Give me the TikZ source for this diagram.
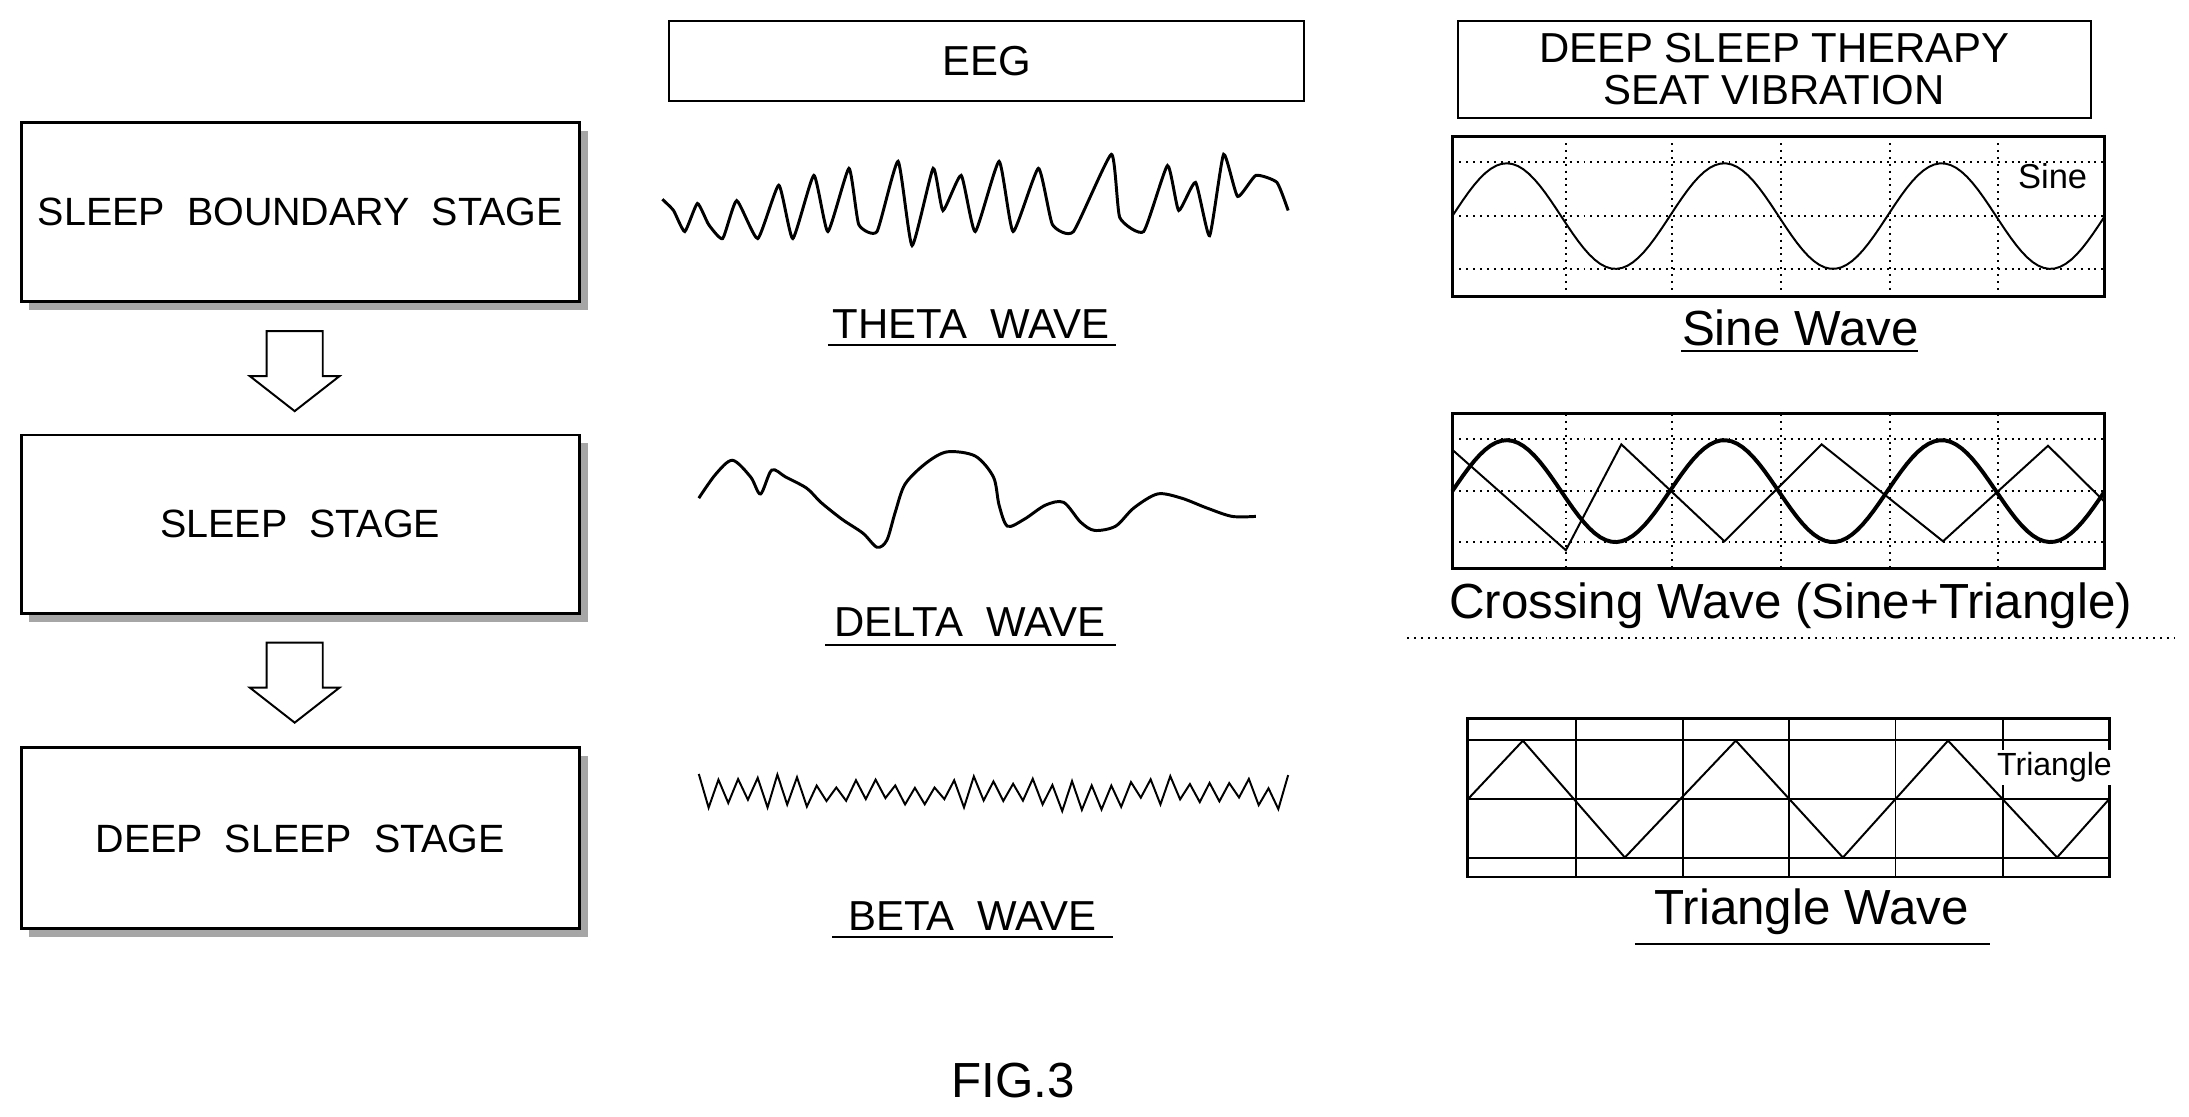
\documentclass[tikz,border=0pt]{standalone}
\usepackage{fontspec}
\setmainfont{Liberation Sans}
\usetikzlibrary{shadows}

\tikzset{
  stage/.style={draw, semithick, fill=white, minimum width=39.8mm, minimum height=12.8mm,
    font=\fontsize{8}{10}\selectfont, inner xsep=1pt,
    drop shadow={shadow xshift=0.6mm, shadow yshift=-0.6mm, fill=gray!70, opacity=1}},
  header/.style={draw, fill=white, font=\fontsize{8.5}{8.5}\selectfont, align=center},
  caption/.style={font=\fontsize{8.5}{10}\selectfont, inner sep=1pt},
  bigcaption/.style={font=\fontsize{10}{12}\selectfont, inner sep=1pt},
  grid/.style={densely dotted, thin},
  uline/.style={thin}
}

\begin{document}
\begin{tikzpicture}[x=0.1mm, y=-0.1mm]
  \useasboundingbox (0,0) rectangle (1560,796);

  % stages
  \node[stage] (b1) at (214,151) {SLEEP\ \ BOUNDARY\ \ STAGE};
  \node[stage, minimum height=12.7mm] (b2) at (214,373.5) {SLEEP\ \ STAGE};
  \node[stage, minimum height=12.9mm] (b3) at (214,597.5) {DEEP\ \ SLEEP\ \ STAGE};

  % hollow arrows
  \foreach \t in {236,458}{
    \draw (190,\t) -- (230,\t) -- (230,\t+32) -- (242,\t+32) -- (210,\t+57)
      -- (178,\t+32) -- (190,\t+32) -- cycle;
  }

  % headers
  \node[header, minimum width=45.2mm, minimum height=5.7mm] (eeg) at (703,43.5) {EEG};
  \node[header, minimum width=45.1mm, minimum height=6.9mm, inner sep=1pt] (dst) at (1264.5,49.5)
    {DEEP SLEEP THERAPY\\SEAT VIBRATION};

  % EEG waves
  \draw[semithick] plot[tension=0.3, smooth] coordinates {(472,142) (480,150) (488,165) (497,145) (505,160)
    (515,170) (525,143) (540,170) (555,132) (565,170) (580,125) (590,165) (605,120) (612,160)
    (625,165) (640,115) (650,175) (665,120) (672,150) (685,125) (695,165) (712,115)
    (722,165) (740,120) (750,160) (765,165) (792,110) (798,155) (815,165)
    (832,118) (840,150) (852,130) (862,168) (872,110) (882,140) (895,125) (910,130) (918,150)};
  \draw[semithick] plot[smooth] coordinates {(498,355) (510,338) (522,328) (535,340) (542,352) (550,335)
    (560,340) (575,348) (585,358) (600,370) (615,380) (625,390) (632,385) (638,365) (645,345)
    (660,330) (675,322) (695,325) (708,340) (712,360) (718,375) (730,370) (745,360) (758,358)
    (770,372) (780,378) (795,375) (808,362) (825,352) (842,355) (860,362) (878,368) (895,368)};
  \pgfmathsetseed{11}
  \draw plot[variable=\t, domain=0:60, samples=61]
    ({498+7*\t}, {565+(2*mod(round(\t),2)-1)*(3+11*rnd)});

  \node[caption] (theta) at (692,231) {THETA\ \ WAVE};
  \node[caption] (delta) at (691,443) {DELTA\ \ WAVE};
  \node[caption] (beta) at (693,653) {BETA\ \ WAVE};
  \draw[uline] (590,246) -- (795,246);
  \draw[uline] (588,460) -- (795,460);
  \draw[uline] (593,668) -- (793,668);

  % sine scope
  \begin{scope}[shift={(1035,97)}, x=46.5mm, y=-11.4mm]
    \foreach \v in {0.174,0.337,0.504,0.671,0.837} \draw[grid] (\v,0) -- (\v,1);
    \foreach \h in {0.16,0.5,0.83} \draw[grid] (0,\h) -- (1,\h);
    \draw[semithick] (0,0) rectangle (1,1);
    \draw plot[domain=0:1, samples=120] (\x, {0.5-0.33*sin(1080*\x)});
    \node[font=\fontsize{7}{8}\selectfont] (sinetag) at (0.92,0.25) {Sine};
  \end{scope}
  \node[bigcaption] (sinecap) at (1283,234) {Sine\ Wave};
  \draw[uline] (1198,250) -- (1367,250);

  % crossing scope
  \begin{scope}[shift={(1035,295)}, x=46.5mm, y=-11mm]
    \foreach \v in {0.174,0.337,0.504,0.671,0.837} \draw[grid] (\v,0) -- (\v,1);
    \foreach \h in {0.16,0.5,0.83} \draw[grid] (0,\h) -- (1,\h);
    \draw[semithick] (0,0) rectangle (1,1);
    \draw[thin] (0,0.232) -- (0.174,0.883) -- (0.259,0.197) -- (0.417,0.825) -- (0.566,0.197)
      -- (0.752,0.825) -- (0.913,0.206) -- (1,0.571);
    \draw[thick] plot[domain=0:1, samples=120] (\x, {0.5-0.33*sin(1080*\x)});
  \end{scope}
  \node[bigcaption] (crosscap) at (1276,432) {Crossing\ Wave\ (Sine+Triangle)};
  \draw[uline, densely dotted] (1003,455) -- (1550,455);

  % triangle scope
  \begin{scope}[shift={(1046,512)}, x=45.7mm, y=-11.3mm]
    \foreach \v in {0.169,0.335,0.501,0.667,0.835} \draw[thin] (\v,0) -- (\v,1);
    \foreach \h in {0.134,0.51,0.88} \draw[thin] (0,\h) -- (1,\h);
    \draw[semithick] (0,0) rectangle (1,1);
    \draw (0,0.51) -- (0.086,0.14) -- (0.245,0.877) -- (0.418,0.14) -- (0.585,0.877)
      -- (0.749,0.14) -- (0.919,0.877) -- (1,0.51);
    \node[font=\fontsize{6.5}{8}\selectfont, fill=white, inner sep=0.5pt] (tritag) at (0.915,0.31) {Triangle};
  \end{scope}
  \node[bigcaption] (tricap) at (1291,650) {Triangle\ Wave};
  \draw[uline] (1165,673) -- (1418,673);

  \node[font=\fontsize{10}{12}\selectfont] (fig) at (722,770) {FIG.3};
\end{tikzpicture}
\end{document}
